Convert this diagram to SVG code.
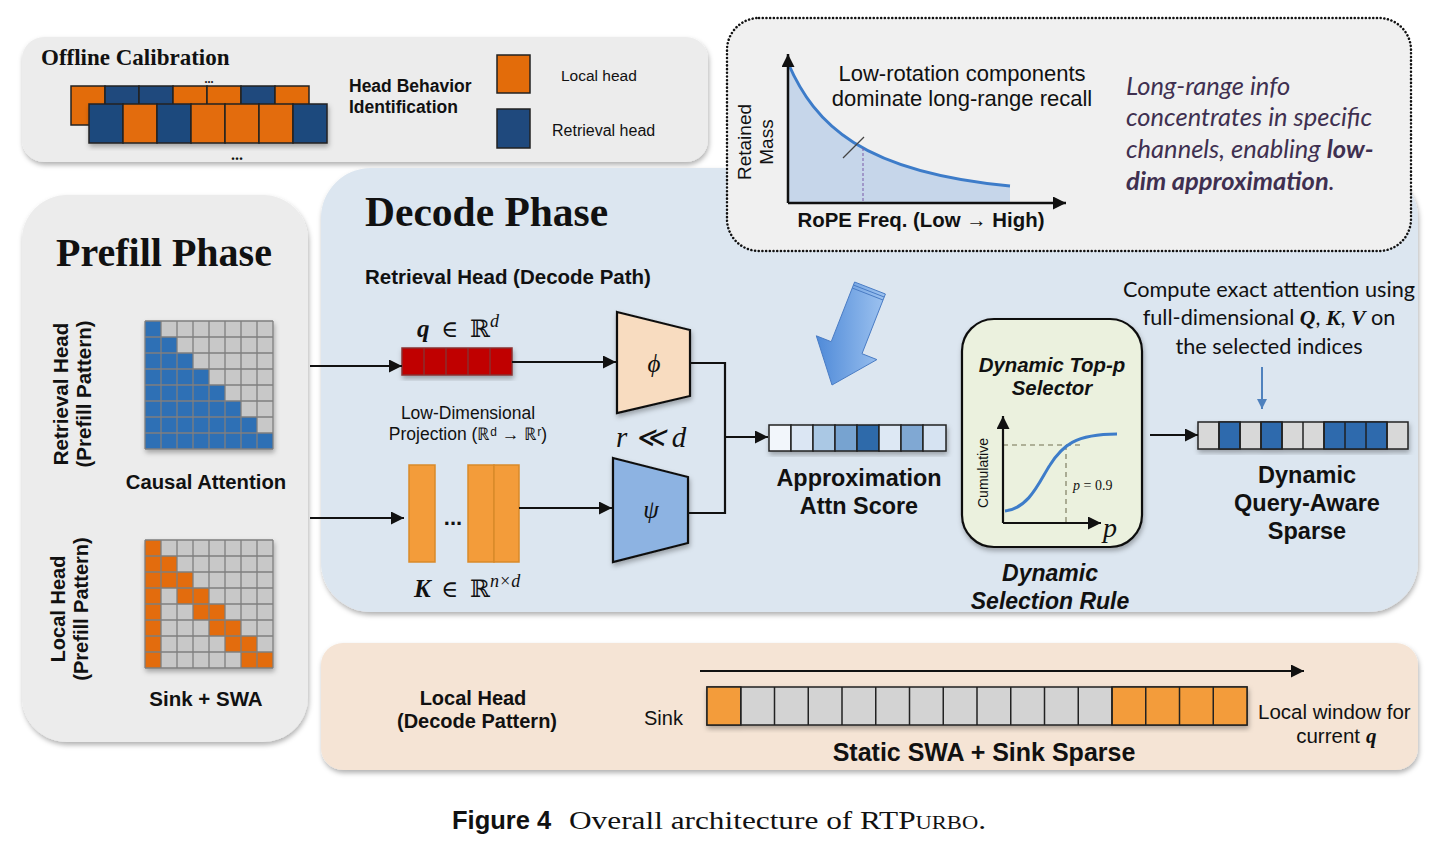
<svg xmlns="http://www.w3.org/2000/svg" width="1439" height="851" viewBox="0 0 1439 851">
<defs>
<filter id="sh" x="-10%" y="-10%" width="120%" height="130%">
<feDropShadow dx="1" dy="3" stdDeviation="2.5" flood-color="#000" flood-opacity="0.3"/>
</filter>
<marker id="ah" viewBox="0 0 10 10" markerWidth="15" markerHeight="13" markerUnits="userSpaceOnUse" refX="10" refY="5" orient="auto">
<path d="M0,0 L10,5 L0,10 z" fill="#111"/>
</marker>
<marker id="ahb" viewBox="0 0 10 10" markerWidth="10" markerHeight="10" markerUnits="userSpaceOnUse" refX="10" refY="5" orient="auto">
<path d="M0,0 L10,5 L0,10 z" fill="#4f81bd"/>
</marker>
<linearGradient id="bigArrow" x1="0" y1="0" x2="1" y2="0">
<stop offset="0" stop-color="#4f8ad8"/>
<stop offset="1" stop-color="#9ec3f0"/>
</linearGradient>
<style>
.sans{font-family:"Liberation Sans",Arial,sans-serif;fill:#111}
.b{font-weight:bold}
.serif{font-family:"Liberation Serif","DejaVu Serif",serif;fill:#111}
.math{font-family:"Liberation Serif","DejaVu Serif",serif;fill:#111}
.cal{font-family:Lato,"Open Sans",sans-serif;fill:#111}
.cell{stroke:#222;stroke-width:1.5}
.org{fill:#e36c0a}
.blu{fill:#1f497d}
.grid{stroke:#7f7f7f;stroke-width:1.3;fill:none}
.conn{stroke:#111;stroke-width:2.2;fill:none}
</style>
</defs>
<rect width="1439" height="851" fill="#fff"/>

<!-- Offline Calibration -->
<g id="offline">
<rect x="22" y="37" width="686" height="125" rx="22" fill="#ececec" filter="url(#sh)"/>
<text class="serif b" x="41" y="65" font-size="23">Offline Calibration</text>
<text class="serif b" x="209" y="83" font-size="12" text-anchor="middle">...</text>
<g class="cell">
<rect class="org" x="71" y="86" width="34" height="39"/>
<rect class="blu" x="105" y="86" width="34" height="39"/>
<rect class="blu" x="139" y="86" width="34" height="39"/>
<rect class="org" x="173" y="86" width="34" height="39"/>
<rect class="org" x="207" y="86" width="34" height="39"/>
<rect class="blu" x="241" y="86" width="34" height="39"/>
<rect class="org" x="275" y="86" width="34" height="39"/>
</g>
<g class="cell" filter="url(#sh)">
<rect class="blu" x="89" y="104" width="34" height="39"/>
<rect class="org" x="123" y="104" width="34" height="39"/>
<rect class="blu" x="157" y="104" width="34" height="39"/>
<rect class="org" x="191" y="104" width="34" height="39"/>
<rect class="org" x="225" y="104" width="34" height="39"/>
<rect class="org" x="259" y="104" width="34" height="39"/>
<rect class="blu" x="293" y="104" width="34" height="39"/>
</g>
<text class="serif b" x="237" y="160" font-size="16" text-anchor="middle">...</text>
<text class="sans b" x="349" y="92" font-size="17.5">Head Behavior</text>
<text class="sans b" x="349" y="113" font-size="17.5">Identification</text>
<rect class="org cell" x="497" y="55" width="33" height="38"/>
<rect class="blu cell" x="497" y="109" width="33" height="39"/>
<text class="sans" x="561" y="81" font-size="15.5">Local head</text>
<text class="sans" x="552" y="136" font-size="16">Retrieval head</text>
</g>

<!-- Prefill Phase -->
<g id="prefill">
<rect x="22" y="195" width="286" height="547" rx="45" fill="#ececec" filter="url(#sh)"/>
<text class="serif b" x="56" y="266" font-size="40">Prefill Phase</text>
<text class="sans b" font-size="20.5" text-anchor="middle" transform="translate(68,394) rotate(-90)">Retrieval Head</text>
<text class="sans b" font-size="20.5" text-anchor="middle" transform="translate(91,394) rotate(-90)">(Prefill Pattern)</text>
<g filter="url(#sh)">
<rect x="145" y="321" width="128" height="128" fill="#c8c8c8"/>
<polygon points="145,321 161,321 161,337 177,337 177,353 193,353 193,369 209,369 209,385 225,385 225,401 241,401 241,417 257,417 257,433 273,433 273,449 145,449" fill="#2e6fb5"/>
<path class="grid" d="M145 321V449M161 321V449M177 321V449M193 321V449M209 321V449M225 321V449M241 321V449M257 321V449M273 321V449M145 321H273M145 337H273M145 353H273M145 369H273M145 385H273M145 401H273M145 417H273M145 433H273M145 449H273"/>
</g>
<text class="sans b" x="206" y="489" font-size="20.3" text-anchor="middle">Causal Attention</text>
<text class="sans b" font-size="20" text-anchor="middle" transform="translate(65,609) rotate(-90)">Local Head</text>
<text class="sans b" font-size="20" text-anchor="middle" transform="translate(88,609) rotate(-90)">(Prefill Pattern)</text>
<g filter="url(#sh)">
<rect x="145" y="540" width="128" height="128" fill="#c8c8c8"/>
<g fill="#e36c0a">
<rect x="145" y="540" width="16" height="128"/>
<rect x="161" y="556" width="16" height="16"/>
<rect x="161" y="572" width="32" height="16"/>
<rect x="177" y="588" width="32" height="16"/>
<rect x="193" y="604" width="32" height="16"/>
<rect x="209" y="620" width="32" height="16"/>
<rect x="225" y="636" width="32" height="16"/>
<rect x="241" y="652" width="32" height="16"/>
</g>
<path class="grid" d="M145 540V668M161 540V668M177 540V668M193 540V668M209 540V668M225 540V668M241 540V668M257 540V668M273 540V668M145 540H273M145 556H273M145 572H273M145 588H273M145 604H273M145 620H273M145 636H273M145 652H273M145 668H273"/>
</g>
<text class="sans b" x="206" y="706" font-size="20.5" text-anchor="middle">Sink + SWA</text>
</g>

<!-- Decode Phase -->
<g id="decode">
<rect x="321" y="168" width="1097" height="444" rx="50" fill="#dce6f0" filter="url(#sh)"/>
<text class="serif b" x="365" y="226" font-size="41.5">Decode Phase</text>
<text class="sans b" x="365" y="284" font-size="20.5">Retrieval Head (Decode Path)</text>
</g>

<!-- Local head decode -->
<g id="local-decode">
<rect x="321" y="643" width="1097" height="127" rx="22" fill="#f5e4d5" filter="url(#sh)"/>
<text class="sans b" x="473" y="705" font-size="20" text-anchor="middle">Local Head</text>
<text class="sans b" x="477" y="728" font-size="20" text-anchor="middle">(Decode Pattern)</text>
<text class="sans" x="644" y="725" font-size="20">Sink</text>
<g class="cell" filter="url(#sh)">
<rect x="707" y="687" width="540" height="38" fill="#d3d3d3"/>
<rect x="707" y="687" width="33.75" height="38" fill="#f39c3a"/>
<rect x="1112" y="687" width="135" height="38" fill="#f39c3a"/>
<path d="M740.75 687V725M774.5 687V725M808.25 687V725M842 687V725M875.75 687V725M909.5 687V725M943.25 687V725M977 687V725M1010.75 687V725M1044.5 687V725M1078.25 687V725M1112 687V725M1145.75 687V725M1179.5 687V725M1213.25 687V725" fill="none"/>
</g>
<text class="sans b" x="984" y="761" font-size="25" text-anchor="middle">Static SWA + Sink Sparse</text>
<text class="sans" x="1258" y="719" font-size="20.5">Local window for</text>
<text class="sans" x="1360" y="743" font-size="20.5" text-anchor="end">current</text>
<text class="math b" x="1366" y="743" font-size="21" font-style="italic">q</text>
</g>

<!-- Top-right RoPE box -->
<g id="rope-box">
<rect x="727" y="18" width="684" height="233" rx="32" fill="#f0f0f0" stroke="#111" stroke-width="2.5" stroke-dasharray="0.1 3.6" stroke-linecap="round"/>
<path d="M788,63 C815,125 862,172 1010,186 L1010,203 L788,203 Z" fill="#c6d6ea"/>
<path d="M788,63 C815,125 862,172 1010,186" fill="none" stroke="#3d7cc9" stroke-width="3"/>
<line x1="863" y1="148" x2="863" y2="203" stroke="#7a5aa8" stroke-width="1" stroke-dasharray="3 2"/>
<line x1="843" y1="158" x2="864" y2="137" stroke="#444" stroke-width="1.3"/>
<line x1="788" y1="203" x2="788" y2="54" stroke="#111" stroke-width="2.5" marker-end="url(#ah)"/>
<line x1="788" y1="203" x2="1066" y2="203" stroke="#111" stroke-width="2.5" marker-end="url(#ah)"/>
<text class="sans" font-size="19" text-anchor="middle" transform="translate(751,142) rotate(-90)">Retained</text>
<text class="sans" font-size="19" text-anchor="middle" transform="translate(773,142) rotate(-90)">Mass</text>
<text class="sans" x="962" y="81" font-size="22" text-anchor="middle">Low-rotation components</text>
<text class="sans" x="962" y="106" font-size="22" text-anchor="middle">dominate long-range recall</text>
<text class="sans b" x="921" y="227" font-size="20.4" text-anchor="middle">RoPE Freq. (Low → High)</text>
<g font-family="Lato,'Open Sans',sans-serif" font-style="italic" font-size="25.5" fill="#3f3050">
<text x="1126" y="95">Long-range info</text>
<text x="1126" y="126">concentrates in specific</text>
<text x="1126" y="158">channels, enabling <tspan font-weight="bold">low-</tspan></text>
<text x="1126" y="190"><tspan font-weight="bold">dim approximation</tspan>.</text>
</g>
</g>

<!-- q vector -->
<g id="q-vector">
<text class="math b" x="417" y="337" font-size="25" font-style="italic">q</text>
<text class="math" x="441" y="337" font-size="23">∈</text>
<text class="math" x="470" y="337" font-size="24">ℝ</text>
<text class="math" x="490" y="327" font-size="18" font-style="italic">d</text>
<g class="cell" filter="url(#sh)">
<rect x="402" y="348" width="110" height="27" fill="#c00000" stroke="#8a3030"/>
<path d="M424 348V375M446 348V375M468 348V375M490 348V375" stroke="#8a3030" fill="none"/>
</g>
</g>

<!-- K columns -->
<g id="k-matrix">
<g stroke="#d98a2a" stroke-width="1.5" fill="#f39c3a">
<rect x="409" y="465" width="26" height="97"/>
<rect x="468" y="465" width="26" height="97"/>
<rect x="494" y="465" width="25" height="97"/>
</g>
<text class="sans b" x="453" y="525" font-size="22" text-anchor="middle">...</text>
<text class="math b" x="414" y="597" font-size="25" font-style="italic">K</text>
<text class="math" x="441" y="597" font-size="23">∈</text>
<text class="math" x="470" y="597" font-size="24">ℝ</text>
<text class="math" x="490" y="587" font-size="18" font-style="italic">n×d</text>
<text class="sans" x="468" y="419" font-size="17.5" text-anchor="middle" fill="#222">Low-Dimensional</text>
<text class="sans" x="468" y="440" font-size="17.5" text-anchor="middle" fill="#222">Projection (ℝᵈ → ℝʳ)</text>
</g>

<!-- phi -->
<g id="phi">
<polygon points="617,312 690,330 690,396 617,413" fill="#f8dcc0" stroke="#111" stroke-width="2.2" filter="url(#sh)"/>
<text class="math" x="654" y="372" font-size="25" font-style="italic" text-anchor="middle">ϕ</text>
</g>
<!-- psi -->
<g id="psi">
<polygon points="613,458 688,477 688,543 613,562" fill="#8db3e2" stroke="#111" stroke-width="2.2" filter="url(#sh)"/>
<text class="math" x="651" y="518" font-size="25" font-style="italic" text-anchor="middle">ψ</text>
</g>
<text class="math" x="616" y="447" font-size="29" font-style="italic">r ≪ d</text>

<!-- big blue arrow -->
<g id="hint-arrow">
<polygon points="854.6,282 885.4,294 862,353.7 876.9,359.6 832,385 816.3,335.8 831.2,341.7" fill="url(#bigArrow)" stroke="#4a7cc4" stroke-width="1"/>
<path d="M853.4,285 L884.2,297 M852.2,288 L883,300" stroke="#4a7cc4" stroke-width="1" fill="none"/>
</g>

<!-- Approx score -->
<g id="approx-score">
<g class="cell" filter="url(#sh)">
<rect x="769" y="425" width="22" height="26" fill="#f2f6fb"/>
<rect x="791" y="425" width="22" height="26" fill="#dbe6f3"/>
<rect x="813" y="425" width="22" height="26" fill="#aac8e4"/>
<rect x="835" y="425" width="22" height="26" fill="#77a3d0"/>
<rect x="857" y="425" width="22" height="26" fill="#2f6aaa"/>
<rect x="879" y="425" width="22" height="26" fill="#dde8f4"/>
<rect x="901" y="425" width="22" height="26" fill="#80a8d3"/>
<rect x="923" y="425" width="23" height="26" fill="#d6e3f2"/>
</g>
<text class="sans b" x="859" y="486" font-size="23.4" text-anchor="middle">Approximation</text>
<text class="sans b" x="859" y="514" font-size="23.4" text-anchor="middle">Attn Score</text>
</g>

<!-- Selector -->
<g id="selector">
<rect x="962" y="319" width="180" height="228" rx="32" fill="#ebf1de" stroke="#111" stroke-width="2.2" filter="url(#sh)"/>
<text class="sans b" x="1052" y="372" font-size="20.4" font-style="italic" text-anchor="middle">Dynamic Top-p</text>
<text class="sans b" x="1052" y="395" font-size="20.4" font-style="italic" text-anchor="middle">Selector</text>
<path d="M1003 445H1082M1066 445V523" stroke="#9a9a80" stroke-width="1.6" stroke-dasharray="5 4" fill="none"/>
<path d="M1005,511 C1030,508 1040,480 1050,465 C1062,446 1075,434 1117,434" fill="none" stroke="#3d7cc9" stroke-width="3"/>
<line x1="1003" y1="523" x2="1003" y2="416" stroke="#111" stroke-width="2.2" marker-end="url(#ah)"/>
<line x1="1003" y1="523" x2="1101" y2="523" stroke="#111" stroke-width="2.2" marker-end="url(#ah)"/>
<text class="sans" font-size="14" text-anchor="middle" transform="translate(988,473) rotate(-90)">Cumulative</text>
<text class="math" x="1073" y="490" font-size="14" font-style="italic">p<tspan font-style="normal"> = 0.9</tspan></text>
<text class="math" x="1103" y="537" font-size="28" font-style="italic">p</text>
<text class="sans b" x="1050" y="581" font-size="23" font-style="italic" text-anchor="middle">Dynamic</text>
<text class="sans b" x="1050" y="609" font-size="23" font-style="italic" text-anchor="middle">Selection Rule</text>
</g>

<!-- Sparse output -->
<g id="sparse-output">
<text class="cal" x="1269" y="297" font-size="21.7" text-anchor="middle">Compute exact attention using</text>
<text class="cal" x="1269" y="325" font-size="21.7" text-anchor="middle">full-dimensional <tspan font-family="'Liberation Serif',serif" font-weight="bold" font-style="italic">Q</tspan>, <tspan font-family="'Liberation Serif',serif" font-weight="bold" font-style="italic">K</tspan>, <tspan font-family="'Liberation Serif',serif" font-weight="bold" font-style="italic">V</tspan> on</text>
<text class="cal" x="1269" y="354" font-size="21.7" text-anchor="middle">the selected indices</text>
<g class="cell" filter="url(#sh)">
<rect x="1198" y="422" width="210" height="27" fill="#d8d8d8"/>
<rect x="1219" y="422" width="21" height="27" fill="#2e6aad"/>
<rect x="1261" y="422" width="21" height="27" fill="#2e6aad"/>
<rect x="1324" y="422" width="63" height="27" fill="#2e6aad"/>
<path d="M1219 422V449M1240 422V449M1261 422V449M1282 422V449M1303 422V449M1324 422V449M1345 422V449M1366 422V449M1387 422V449" fill="none"/>
</g>
<text class="sans b" x="1307" y="483" font-size="23.5" text-anchor="middle">Dynamic</text>
<text class="sans b" x="1307" y="511" font-size="23.5" text-anchor="middle">Query-Aware</text>
<text class="sans b" x="1307" y="539" font-size="23.5" text-anchor="middle">Sparse</text>
</g>

<!-- Connectors -->
<g id="connectors">
<line class="conn" x1="310" y1="366" x2="402" y2="366" marker-end="url(#ah)"/>
<line class="conn" x1="310" y1="518" x2="404" y2="518" marker-end="url(#ah)"/>
<line class="conn" x1="512" y1="362" x2="616" y2="362" marker-end="url(#ah)"/>
<line class="conn" x1="519" y1="508" x2="612" y2="508" marker-end="url(#ah)"/>
<polyline class="conn" points="690,363 725,363 725,513 688,513"/>
<line class="conn" x1="725" y1="437" x2="768" y2="437" marker-end="url(#ah)"/>
<line class="conn" x1="1150" y1="435" x2="1198" y2="435" marker-end="url(#ah)"/>
<line x1="1262" y1="367" x2="1262" y2="409" stroke="#4f81bd" stroke-width="2" marker-end="url(#ahb)"/>
<line class="conn" x1="700" y1="671" x2="1304" y2="671" marker-end="url(#ah)"/>
</g>

<!-- Caption -->
<g id="caption">
<text class="sans b" x="452" y="829" font-size="25.5">Figure 4</text>
<text class="serif" x="569" y="829" font-size="25" textLength="417" lengthAdjust="spacingAndGlyphs">Overall architecture of RTP<tspan font-variant="small-caps">urbo</tspan>.</text>
</g>
</svg>
